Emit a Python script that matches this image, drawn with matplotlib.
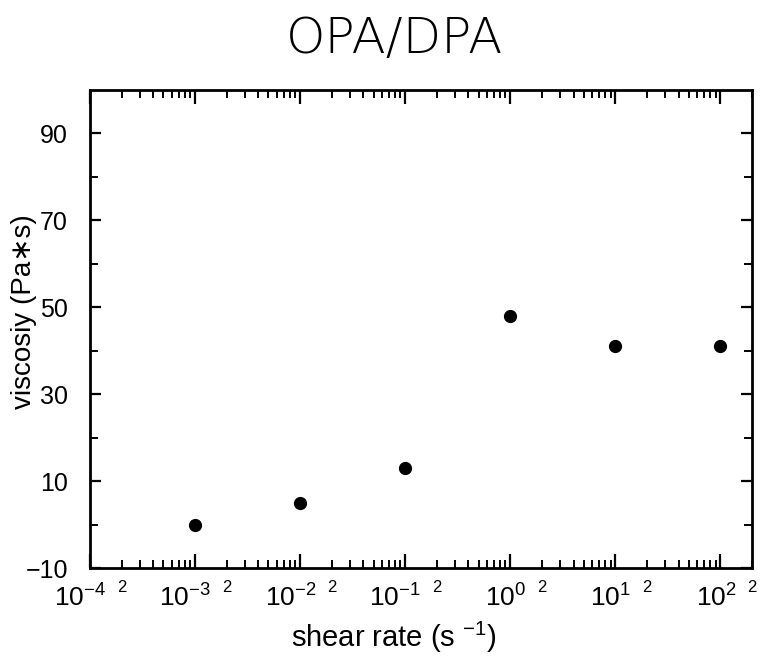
import matplotlib
matplotlib.use("Agg")
import matplotlib.pyplot as plt
from matplotlib.transforms import ScaledTranslation
import numpy as np

# ---- data ----
shear_rate = [1e-3, 1e-2, 1e-1, 1e0, 1e1, 1e2]
viscosity = [0, 5, 13, 48, 41, 41]

x_major = [1e-4, 1e-3, 1e-2, 1e-1, 1e0, 1e1, 1e2]
x_major_labels = [r"$\mathregular{10^{-4}}$", r"$\mathregular{10^{-3}}$", r"$\mathregular{10^{-2}}$",
                  r"$\mathregular{10^{-1}}$", r"$\mathregular{10^{0}}$", r"$\mathregular{10^{1}}$",
                  r"$\mathregular{10^{2}}$"]
x_two = [2e-4, 2e-3, 2e-2, 2e-1, 2e0, 2e1, 2e2]
x_two_labels = ["2"] * 7
y_major = [-10, 10, 30, 50, 70, 90]
y_minor = [0, 20, 40, 60, 80]

plt.rcParams['font.family'] = ['Liberation Sans', 'DejaVu Sans']
plt.rcParams['mathtext.fontset'] = 'custom'
plt.rcParams['mathtext.rm'] = 'Liberation Sans'

fig = plt.figure(figsize=(7.62, 6.56), dpi=100)
W, H = 762, 656
ax = fig.add_axes([90 / W, 1 - 568 / H, (752 - 90) / W, (568 - 90) / H])

ax.plot(shear_rate, viscosity, 'o', color='black', markersize=8.5, clip_on=False)

ax.set_xscale('log')
ax.set_xlim(1e-4, 2e2)
ax.set_ylim(-10, 100)

for s in ax.spines.values():
    s.set_linewidth(2.0)

# x ticks
minor_all = [m * 10.0 ** e for e in range(-4, 3) for m in range(2, 10) if m * 10.0 ** e <= 2e2]
ax.set_xticks(x_major)
ax.set_xticklabels(x_major_labels)
ax.set_xticks(minor_all, minor=True)
ax.set_xticklabels([x_two_labels[x_two.index(v)] if v in x_two else "" for v in minor_all], minor=True)

ax.tick_params(axis='x', which='major', direction='in', length=10, width=1.6,
               top=True, labelsize=19, pad=12)
ax.tick_params(axis='x', which='minor', direction='in', length=6, width=1.4,
               top=True, labelsize=12, pad=9)

# y ticks
ax.set_yticks(y_major)
ax.set_yticklabels([("\u2212" + str(-v)) if v < 0 else str(v) for v in y_major])
ax.set_yticks(y_minor, minor=True)
ax.tick_params(axis='y', which='major', direction='in', length=8, width=1.6,
               right=True, labelsize=18, pad=16)
ax.tick_params(axis='y', which='minor', direction='in', length=6, width=1.4,
               right=True)

fig.canvas.draw()
off = ScaledTranslation(16 / 100, 0, fig.dpi_scale_trans)
for t in ax.xaxis.get_major_ticks():
    t.label1.set_horizontalalignment('right')
    t.label1.set_transform(t.label1.get_transform() + off)

fig.text(395 / W, 1 - 39 / H, "OPA/DPA", ha='center', va='center',
         fontsize=36, family=['DejaVu Sans'], fontweight='light')
fig.text(394 / W, 1 - 647 / H, r"shear rate (s $\mathregular{^{-1}}$)", ha='center',
         va='baseline', fontsize=21)
fig.text(24 / W, 1 - 312 / H, "viscosiy (Pa\u2217s)", ha='center', va='center',
         rotation=90, fontsize=20, family=['Liberation Sans', 'DejaVu Sans'])

fig.savefig("out.png", dpi=100)
